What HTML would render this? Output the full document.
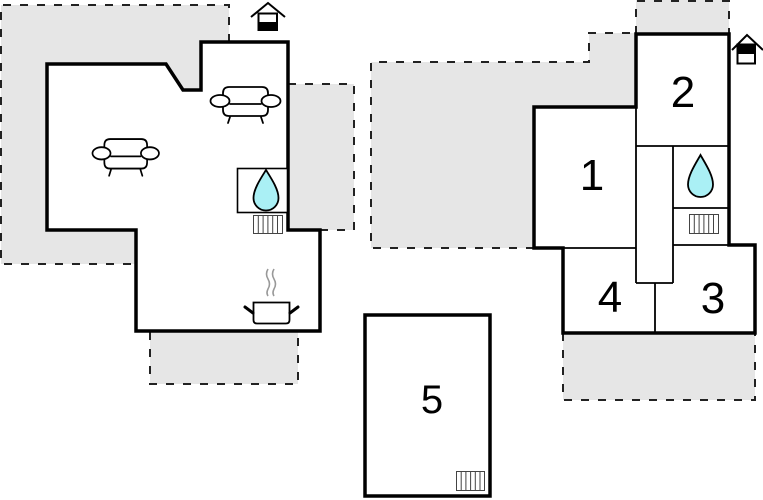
<!DOCTYPE html>
<html>
<head>
<meta charset="utf-8">
<style>
  html,body{margin:0;padding:0;background:#fff;}
  svg{display:block;}
  text{font-family:"Liberation Sans", Arial, sans-serif;fill:#000;}
</style>
</head>
<body>
<svg width="763" height="500" viewBox="0 0 763 500" xmlns="http://www.w3.org/2000/svg">
  <defs>
    <g id="sofa" fill="#fff" stroke="#000" stroke-width="1.8" stroke-linejoin="round" stroke-linecap="round">
      <path d="M13,14 L13,7 Q13,1 19,1 L52,1 Q58,1 58,7 L58,14"/>
      <path d="M13,19 L13,24 Q13,30 19,30 L52,30 Q58,30 58,24 L58,19"/>
      <line x1="20" y1="18" x2="51" y2="18"/>
      <ellipse cx="10" cy="15" rx="9.5" ry="6"/>
      <ellipse cx="61" cy="15" rx="9.5" ry="6"/>
      <line x1="20" y1="31" x2="18" y2="37"/>
      <line x1="51" y1="31" x2="53" y2="37"/>
    </g>
  </defs>

  <!-- gray terraces -->
  <g fill="#e6e6e6" stroke="none">
    <rect x="1" y="5" width="228" height="259"/>
    <rect x="288" y="84" width="66" height="146"/>
    <rect x="150" y="331" width="148" height="53"/>
    <polygon points="371,62 589,62 589,33 636,33 636,248 371,248"/>
    <rect x="636" y="0" width="93" height="34"/>
    <rect x="563" y="333" width="192" height="67"/>
  </g>

  <!-- dashed outlines -->
  <g fill="none" stroke="#222" stroke-width="2" stroke-dasharray="8,9">
    <path d="M229,42 L229,5 L1,5 L1,264 L136,264"/>
    <path d="M288,84 L354,84 L354,230 L320,230"/>
    <path d="M150,332 L150,384 L298,384 L298,332"/>
    <path d="M534,248 L371,248 L371,62 L589,62 L589,33 L636,33"/>
    <path d="M636,34 L636,1 L729,1 L729,34"/>
    <path d="M563,333 L563,400 L755,400 L755,333"/>
  </g>

  <!-- left building -->
  <path d="M47,64 L166,64 L183,90 L201,90 L201,42 L288,42 L288,230 L320,230 L320,331 L136,331 L136,230 L47,230 Z"
        fill="#fff" stroke="#000" stroke-width="3.5" stroke-linejoin="miter"/>

  <!-- right building -->
  <path d="M534,107 L636,107 L636,34 L729,34 L729,245 L755,245 L755,333 L563,333 L563,248 L534,248 Z"
        fill="#fff" stroke="#000" stroke-width="3.5" stroke-linejoin="miter"/>
  <g fill="none" stroke="#000" stroke-width="1.8">
    <path d="M636,107 L636,283"/>
    <path d="M636,146 L729,146"/>
    <path d="M673,146 L673,283"/>
    <path d="M636,283 L673,283"/>
    <path d="M673,208 L729,208"/>
    <path d="M673,245 L729,245"/>
    <path d="M563,248 L636,248"/>
    <path d="M655,283 L655,333"/>
  </g>

  <!-- building 5 -->
  <rect x="365" y="315" width="125" height="181" fill="#fff" stroke="#000" stroke-width="3.5"/>

  <!-- sofas -->
  <use href="#sofa" transform="translate(210,86)"/>
  <use href="#sofa" transform="translate(92,138) scale(0.95,1.02)"/>

  <!-- fireplace left -->
  <rect x="237.5" y="168.5" width="50" height="44" fill="#fff" stroke="#000" stroke-width="1.6"/>
  <path d="M266,170 C261,178 253.5,189 253.5,198 A12.5,12.5 0 0 0 278.5,198 C278.5,189 271,178 266,170 Z"
        fill="#aaf0f5" stroke="#000" stroke-width="1.8"/>

  <!-- right drop -->
  <path d="M700.5,155 C696,163 688,175 688,184.5 A12.5,12.5 0 0 0 713,184.5 C713,175 705,163 700.5,155 Z"
        fill="#aaf0f5" stroke="#000" stroke-width="1.8"/>

  <!-- radiators -->
  <g fill="#fff" stroke="#444" stroke-width="1">
    <rect x="253.5" y="215.5" width="29" height="18"/>
    <path d="M258.3,215.5 V233.5 M263.1,215.5 V233.5 M267.9,215.5 V233.5 M272.7,215.5 V233.5 M277.5,215.5 V233.5"/>
    <rect x="689.5" y="214.5" width="29" height="19"/>
    <path d="M694.3,214.5 V233.5 M699.1,214.5 V233.5 M703.9,214.5 V233.5 M708.7,214.5 V233.5 M713.5,214.5 V233.5"/>
    <rect x="456.5" y="471.5" width="28" height="19"/>
    <path d="M461.2,471.5 V490.5 M465.9,471.5 V490.5 M470.6,471.5 V490.5 M475.3,471.5 V490.5 M480,471.5 V490.5"/>
  </g>

  <!-- pot -->
  <path d="M253.5,302.5 L289.5,302.5 L289.5,320 Q289.5,323.5 286,323.5 L257,323.5 Q253.5,323.5 253.5,320 Z"
        fill="#fff" stroke="#000" stroke-width="1.8"/>
  <g stroke="#000" stroke-width="3" stroke-linecap="round">
    <line x1="245" y1="307" x2="253" y2="313"/>
    <line x1="290" y1="313" x2="298" y2="307"/>
  </g>
  <g fill="none" stroke="#999" stroke-width="1.6">
    <path d="M268,269 Q265,274 268,279 Q271,284 268,289 Q266,293 268,296"/>
    <path d="M274,269 Q271,274 274,279 Q277,284 274,289 Q272,293 274,296"/>
  </g>

  <!-- house icons -->
  <g fill="none" stroke="#000" stroke-width="2">
    <polyline points="251,17 268,3 285,17"/>
    <rect x="258.5" y="13.5" width="18.5" height="16.5" fill="#fff"/>
  </g>
  <rect x="258.5" y="22" width="18.5" height="8" fill="#000"/>

  <g fill="none" stroke="#000" stroke-width="2">
    <polyline points="732,50 747,35 763,50"/>
    <rect x="737.5" y="44.5" width="17.5" height="19" fill="#fff"/>
  </g>
  <rect x="737.5" y="44.5" width="17.5" height="9.5" fill="#000"/>

  <!-- labels -->
  <text x="592" y="190" font-size="44" text-anchor="middle">1</text>
  <text x="683" y="107" font-size="44" text-anchor="middle">2</text>
  <text x="713" y="313" font-size="44" text-anchor="middle">3</text>
  <text x="610" y="312" font-size="44" text-anchor="middle">4</text>
  <text x="432" y="413" font-size="40" text-anchor="middle">5</text>
</svg>
</body>
</html>
